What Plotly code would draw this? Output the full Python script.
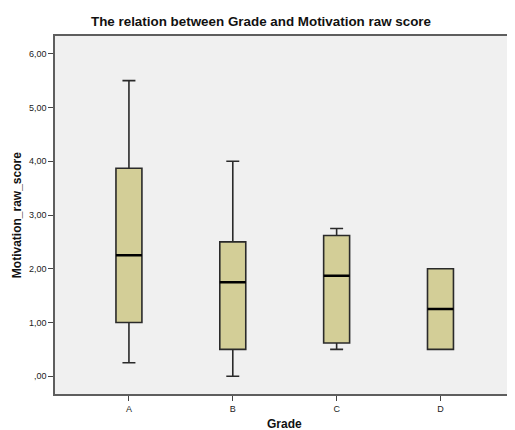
import plotly.graph_objects as go

categories = ["A", "B", "C", "D"]
positions = [0, 1, 2, 3]
lower_whisker = [0.25, 0.00, 0.50, 0.50]
q1 = [1.00, 0.50, 0.62, 0.50]
median = [2.25, 1.75, 1.87, 1.25]
q3 = [3.87, 2.50, 2.62, 2.00]
upper_whisker = [5.50, 4.00, 2.75, 2.00]

y_tickvals = [0, 1, 2, 3, 4, 5, 6]
y_ticktext = [",00", "1,00", "2,00", "3,00", "4,00", "5,00", "6,00"]

OFF = 8  # page body margin offset
W, H = 515 - OFF, 430 - OFF
ML, MR, MT = 55 - OFF, 0, 36 - OFF
MB = H - (394.5 - OFF)
pw = W - ML - MR
ph = H - MT - MB

fig = go.Figure()
fig.add_trace(go.Box(
    x=positions, q1=q1, median=median, q3=q3,
    lowerfence=lower_whisker, upperfence=upper_whisker,
    width=0.25, whiskerwidth=0.5,
    fillcolor="#D3CE97",
    line=dict(color="#2a2a2a", width=1.6),
    boxpoints=False, hoverinfo="skip", showlegend=False,
))
# thick median lines
fig.add_trace(go.Box(
    x=positions, q1=median, median=median, q3=median,
    lowerfence=median, upperfence=median,
    width=0.25, whiskerwidth=0,
    fillcolor="rgba(0,0,0,0)",
    line=dict(color="#000000", width=2.6),
    boxpoints=False, hoverinfo="skip", showlegend=False,
))

fig.update_layout(
    width=W, height=H,
    margin=dict(l=ML, r=MR, t=MT, b=MB, pad=0),
    paper_bgcolor="white",
    plot_bgcolor="#F0F0F0",
    boxmode="overlay",
    font=dict(family="Liberation Sans, Arial, sans-serif", color="#222222"),
    title=dict(text="<b>The relation between Grade and Motivation raw score</b>",
               xref="container", x=(261 - OFF) / W, y=1 - (21.7 - OFF) / H,
               xanchor="center", yanchor="middle",
               font=dict(size=13.4, color="#111111")),
    xaxis=dict(range=[-0.712, -0.712 + pw / 104.3],
               tickvals=positions, ticktext=categories,
               ticks="outside", ticklen=5, tickcolor="#444444", tickwidth=1,
               tickfont=dict(size=9, color="#222222"),
               showgrid=False, zeroline=False,
               showline=True, linecolor="#5e5e5e", linewidth=1.5, mirror=True),
    yaxis=dict(range=[-0.33, 6.33],
               tickvals=y_tickvals, ticktext=y_ticktext,
               ticks="outside", ticklen=5, tickcolor="#444444", tickwidth=1,
               tickfont=dict(size=9, color="#222222"),
               showgrid=False, zeroline=False,
               showline=True, linecolor="#5e5e5e", linewidth=1.5, mirror=True),
    annotations=[
        dict(text="<b>Motivation_raw_score</b>", xref="paper", yref="paper",
             x=(17 - 55) / pw, y=0.5, xanchor="center", yanchor="middle",
             textangle=-90, showarrow=False, font=dict(size=12, color="#111111")),
        dict(text="<b>Grade</b>", xref="paper", yref="paper",
             x=(285.8 - 55) / pw, y=(394.5 - 425) / ph, xanchor="center", yanchor="middle",
             showarrow=False, font=dict(size=12, color="#111111")),
    ],
)

fig.write_html("out.html")
